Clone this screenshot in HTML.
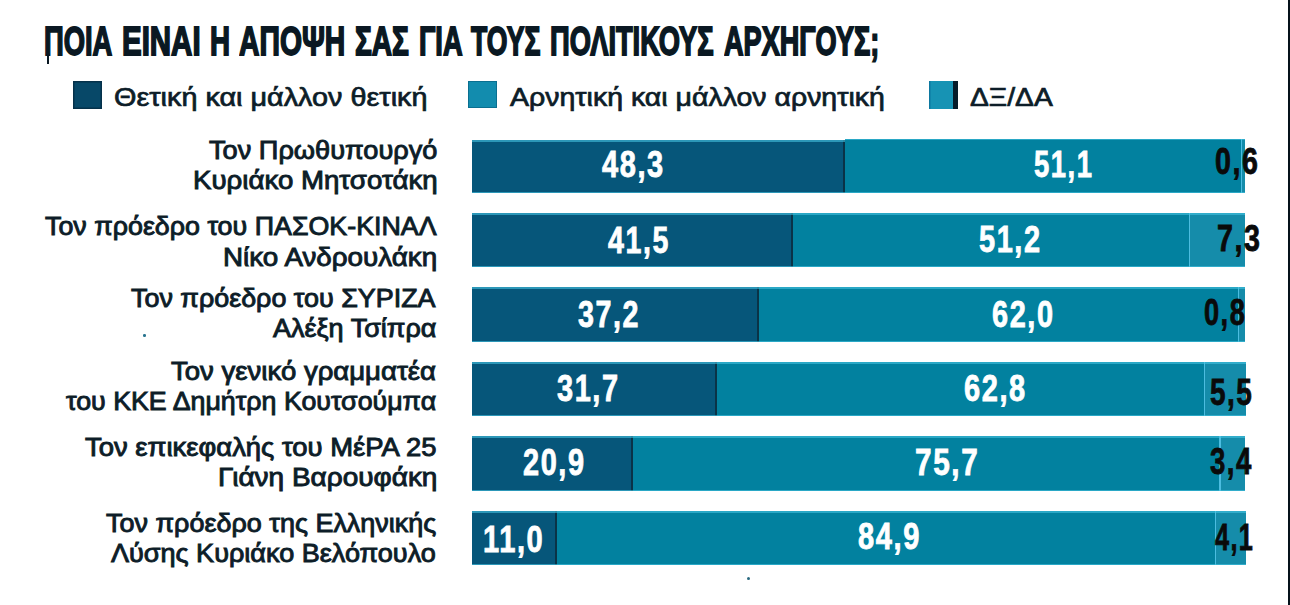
<!DOCTYPE html>
<html><head><meta charset="utf-8"><title>Chart</title>
<style>
html,body{margin:0;padding:0;background:#fff;}
body{width:1290px;height:605px;position:relative;overflow:hidden;font-family:"Liberation Sans",sans-serif;}
.x{position:absolute;white-space:nowrap;transform-origin:0 0;}
.t{font-weight:bold;color:#0a1822;-webkit-text-stroke:1.8px #0a1822;}
.sq{position:absolute;width:29px;height:27px;}
.lg{color:#0d1d28;-webkit-text-stroke:0.7px #0d1d28;}
.lb{color:#0d1d28;-webkit-text-stroke:0.9px #0d1d28;}
.seg{position:absolute;}
.n{font-weight:bold;letter-spacing:2px;}
.w{color:#fff;-webkit-text-stroke:0.8px #fff;}
.k{color:#0a0a0a;-webkit-text-stroke:0.8px #0a0a0a;}
.vl{position:absolute;left:1287.8px;top:0;width:2.2px;height:605px;background:#05111a;}
</style></head><body>
<div class="x t" id="t0" style="left:44.10px;top:20.62px;font-size:41.20px;line-height:41.20px;transform:scaleX(0.6638)">ΠΟΙΑ</div><div class="x t" id="t1" style="left:122.30px;top:20.62px;font-size:41.20px;line-height:41.20px;transform:scaleX(0.7154)">ΕΙΝΑΙ</div><div class="x t" id="t2" style="left:210.00px;top:20.62px;font-size:41.20px;line-height:41.20px;transform:scaleX(0.6738)">Η</div><div class="x t" id="t3" style="left:239.30px;top:20.62px;font-size:41.20px;line-height:41.20px;transform:scaleX(0.6877)">ΑΠΟΨΗ</div><div class="x t" id="t4" style="left:355.20px;top:20.62px;font-size:41.20px;line-height:41.20px;transform:scaleX(0.6803)">ΣΑΣ</div><div class="x t" id="t5" style="left:418.50px;top:20.62px;font-size:41.20px;line-height:41.20px;transform:scaleX(0.6612)">ΓΙΑ</div><div class="x t" id="t6" style="left:471.00px;top:20.62px;font-size:41.20px;line-height:41.20px;transform:scaleX(0.6458)">ΤΟΥΣ</div><div class="x t" id="t7" style="left:550.30px;top:20.62px;font-size:41.20px;line-height:41.20px;transform:scaleX(0.6623)">ΠΟΛΙΤΙΚΟΥΣ</div><div class="x t" id="t8" style="left:724.30px;top:20.62px;font-size:41.20px;line-height:41.20px;transform:scaleX(0.6581)">ΑΡΧΗΓΟΥΣ;</div>
<div class="sq" style="left:72.5px;top:81px;width:29.5px;height:27.5px;background:#074868;box-shadow:inset 0 0 0 1.5px #05314a"></div>
<div class="x lg" id="lg1" style="left:113.90px;top:85.44px;font-size:25.00px;line-height:25.00px;transform:scaleX(1.1515)">Θετική και μάλλον θετική</div>
<div class="sq" style="left:468px;top:80.5px;width:29px;height:27px;background:#128cae;box-shadow:inset 0 0 0 1px #0a6f90"></div>
<div class="x lg" id="lg2" style="left:510.00px;top:85.44px;font-size:25.00px;line-height:25.00px;transform:scaleX(1.1396)">Αρνητική και μάλλον αρνητική</div>
<div class="sq" style="left:928.5px;top:80.5px;width:24.5px;height:28px;background:#1793b4;box-shadow:inset 1.5px 0 0 #0c78a0"></div><div class="sq" style="left:953px;top:80.5px;width:4.5px;height:28px;background:#061c2a"></div>
<div class="x lg" id="lg3" style="left:969.50px;top:85.44px;font-size:25.00px;line-height:25.00px;transform:scaleX(1.1287)">ΔΞ/ΔΑ</div>
<div class="x lb" id="lb0" style="left:209.00px;top:137.64px;font-size:25.00px;line-height:25.00px;transform:scaleX(1.0858)">Τον Πρωθυπουργό</div>
<div class="x lb" id="lb1" style="left:193.00px;top:168.44px;font-size:25.00px;line-height:25.00px;transform:scaleX(1.1056)">Κυριάκο Μητσοτάκη</div>
<div class="x lb" id="lb2" style="left:44.70px;top:214.44px;font-size:25.00px;line-height:25.00px;transform:scaleX(1.0727)">Τον πρόεδρο του ΠΑΣΟΚ-ΚΙΝΑΛ</div>
<div class="x lb" id="lb3" style="left:223.00px;top:244.84px;font-size:25.00px;line-height:25.00px;transform:scaleX(1.1113)">Νίκο Ανδρουλάκη</div>
<div class="x lb" id="lb4" style="left:131.30px;top:285.54px;font-size:25.00px;line-height:25.00px;transform:scaleX(1.0757)">Τον πρόεδρο του ΣΥΡΙΖΑ</div>
<div class="x lb" id="lb5" style="left:273.00px;top:315.84px;font-size:25.00px;line-height:25.00px;transform:scaleX(1.0797)">Αλέξη Τσίπρα</div>
<div class="x lb" id="lb6" style="left:171.30px;top:359.34px;font-size:25.00px;line-height:25.00px;transform:scaleX(1.1017)">Τον γενικό γραμματέα</div>
<div class="x lb" id="lb7" style="left:66.30px;top:389.34px;font-size:25.00px;line-height:25.00px;transform:scaleX(1.0707)">του ΚΚΕ Δημήτρη Κουτσούμπα</div>
<div class="x lb" id="lb8" style="left:85.00px;top:434.84px;font-size:25.00px;line-height:25.00px;transform:scaleX(1.0969)">Τον επικεφαλής του ΜέΡΑ 25</div>
<div class="x lb" id="lb9" style="left:218.00px;top:464.84px;font-size:25.00px;line-height:25.00px;transform:scaleX(1.1193)">Γιάνη Βαρουφάκη</div>
<div class="x lb" id="lb10" style="left:106.00px;top:510.54px;font-size:25.00px;line-height:25.00px;transform:scaleX(1.0785)">Τον πρόεδρο της Ελληνικής</div>
<div class="x lb" id="lb11" style="left:111.30px;top:540.54px;font-size:25.00px;line-height:25.00px;transform:scaleX(1.0816)">Λύσης Κυριάκο Βελόπουλο</div>
<div class="seg" style="left:472px;top:140px;width:373px;height:53px;background:#06567a"></div><div class="seg" style="left:845px;top:138.7px;width:395.6px;height:54.3px;background:#02819f"></div><div class="seg" style="left:1240.6px;top:138.7px;width:4.4px;height:54.3px;background:#158caa"></div>
<div class="seg" style="left:843px;top:140px;width:2px;height:53px;background:#0a3347"></div><div class="seg" style="left:1240.6px;top:138.7px;width:1.5px;height:54.3px;background:#4cbde0"></div>
<div class="seg" style="left:472px;top:140px;width:373px;height:1.5px;background:rgba(70,195,225,0.6)"></div><div class="seg" style="left:845px;top:138.7px;width:400px;height:1.5px;background:rgba(70,195,225,0.6)"></div><div class="seg" style="left:472px;top:191.5px;width:773px;height:1.5px;background:rgba(70,195,225,0.6)"></div>
<div class="x n w" id="n00" style="left:602.00px;top:147.19px;font-size:36.40px;line-height:36.40px;transform:scaleX(0.7973)">48,3</div><div class="x n w" id="n01" style="left:1034.00px;top:147.29px;font-size:36.40px;line-height:36.40px;transform:scaleX(0.7538)">51,1</div><div class="x n k" id="n02" style="left:1215.00px;top:144.09px;font-size:36.40px;line-height:36.40px;transform:scaleX(0.7857)">0,6</div>
<div class="seg" style="left:472px;top:213px;width:321px;height:54px;background:#06567a"></div><div class="seg" style="left:793px;top:213px;width:395.5px;height:54px;background:#02819f"></div><div class="seg" style="left:1188.5px;top:213px;width:56.5px;height:54px;background:#158caa"></div>
<div class="seg" style="left:791px;top:213px;width:2px;height:54px;background:#0a3347"></div><div class="seg" style="left:1188.5px;top:213px;width:1.5px;height:54px;background:#4cbde0"></div>
<div class="seg" style="left:472px;top:213px;width:321px;height:1.5px;background:rgba(70,195,225,0.6)"></div><div class="seg" style="left:793px;top:213px;width:452px;height:1.5px;background:rgba(70,195,225,0.6)"></div><div class="seg" style="left:472px;top:265.5px;width:773px;height:1.5px;background:rgba(70,195,225,0.6)"></div>
<div class="x n w" id="n10" style="left:608.00px;top:222.59px;font-size:36.40px;line-height:36.40px;transform:scaleX(0.7846)">41,5</div><div class="x n w" id="n11" style="left:979.00px;top:221.99px;font-size:36.40px;line-height:36.40px;transform:scaleX(0.7947)">51,2</div><div class="x n k" id="n12" style="left:1217.00px;top:220.59px;font-size:36.40px;line-height:36.40px;transform:scaleX(0.7883)">7,3</div>
<div class="seg" style="left:472px;top:287px;width:287px;height:55px;background:#06567a"></div><div class="seg" style="left:759px;top:287px;width:478.7px;height:55px;background:#02819f"></div><div class="seg" style="left:1237.7px;top:287px;width:7.3px;height:55px;background:#158caa"></div>
<div class="seg" style="left:757px;top:287px;width:2px;height:55px;background:#0a3347"></div><div class="seg" style="left:1237.7px;top:287px;width:1.5px;height:55px;background:#4cbde0"></div>
<div class="seg" style="left:472px;top:287px;width:287px;height:1.5px;background:rgba(70,195,225,0.6)"></div><div class="seg" style="left:759px;top:287px;width:486px;height:1.5px;background:rgba(70,195,225,0.6)"></div><div class="seg" style="left:472px;top:340.5px;width:773px;height:1.5px;background:rgba(70,195,225,0.6)"></div>
<div class="x n w" id="n20" style="left:578.00px;top:296.59px;font-size:36.40px;line-height:36.40px;transform:scaleX(0.7872)">37,2</div><div class="x n w" id="n21" style="left:992.00px;top:296.59px;font-size:36.40px;line-height:36.40px;transform:scaleX(0.7932)">62,0</div><div class="x n k" id="n22" style="left:1204.00px;top:294.59px;font-size:36.40px;line-height:36.40px;transform:scaleX(0.7470)">0,8</div>
<div class="seg" style="left:472px;top:362px;width:245px;height:54px;background:#06567a"></div><div class="seg" style="left:717px;top:362px;width:486.6px;height:54px;background:#02819f"></div><div class="seg" style="left:1203.6px;top:362px;width:42.2px;height:54px;background:#158caa"></div>
<div class="seg" style="left:715px;top:362px;width:2px;height:54px;background:#0a3347"></div><div class="seg" style="left:1203.6px;top:362px;width:1.5px;height:54px;background:#4cbde0"></div>
<div class="seg" style="left:472px;top:362px;width:245px;height:1.5px;background:rgba(70,195,225,0.6)"></div><div class="seg" style="left:717px;top:362px;width:528.8px;height:1.5px;background:rgba(70,195,225,0.6)"></div><div class="seg" style="left:472px;top:414.5px;width:773.8px;height:1.5px;background:rgba(70,195,225,0.6)"></div>
<div class="x n w" id="n30" style="left:557.00px;top:370.59px;font-size:36.40px;line-height:36.40px;transform:scaleX(0.7950)">31,7</div><div class="x n w" id="n31" style="left:963.50px;top:370.99px;font-size:36.40px;line-height:36.40px;transform:scaleX(0.7971)">62,8</div><div class="x n k" id="n32" style="left:1210.00px;top:374.59px;font-size:36.40px;line-height:36.40px;transform:scaleX(0.7678)">5,5</div>
<div class="seg" style="left:472px;top:436px;width:161.2px;height:55px;background:#06567a"></div><div class="seg" style="left:633.2px;top:436px;width:586.0px;height:55px;background:#02819f"></div><div class="seg" style="left:1219.2px;top:436px;width:25.8px;height:55px;background:#158caa"></div>
<div class="seg" style="left:631.2px;top:436px;width:2px;height:55px;background:#0a3347"></div><div class="seg" style="left:1219.2px;top:436px;width:1.5px;height:55px;background:#4cbde0"></div>
<div class="seg" style="left:472px;top:436px;width:161.2px;height:1.5px;background:rgba(70,195,225,0.6)"></div><div class="seg" style="left:633.2px;top:436px;width:611.8px;height:1.5px;background:rgba(70,195,225,0.6)"></div><div class="seg" style="left:472px;top:489.5px;width:773px;height:1.5px;background:rgba(70,195,225,0.6)"></div>
<div class="x n w" id="n40" style="left:522.70px;top:445.39px;font-size:36.40px;line-height:36.40px;transform:scaleX(0.7941)">20,9</div><div class="x n w" id="n41" style="left:914.60px;top:444.59px;font-size:36.40px;line-height:36.40px;transform:scaleX(0.8172)">75,7</div><div class="x n k" id="n42" style="left:1210.00px;top:443.59px;font-size:36.40px;line-height:36.40px;transform:scaleX(0.7564)">3,4</div>
<div class="seg" style="left:472px;top:511px;width:84.7px;height:54px;background:#06567a"></div><div class="seg" style="left:556.7px;top:511px;width:657.9px;height:54px;background:#02819f"></div><div class="seg" style="left:1214.6px;top:511px;width:31.2px;height:54px;background:#158caa"></div>
<div class="seg" style="left:554.7px;top:511px;width:2px;height:54px;background:#0a3347"></div><div class="seg" style="left:1214.6px;top:511px;width:1.5px;height:54px;background:#4cbde0"></div>
<div class="seg" style="left:472px;top:511px;width:84.7px;height:1.5px;background:rgba(70,195,225,0.6)"></div><div class="seg" style="left:556.7px;top:511px;width:689.1px;height:1.5px;background:rgba(70,195,225,0.6)"></div><div class="seg" style="left:472px;top:563.5px;width:773.8px;height:1.5px;background:rgba(70,195,225,0.6)"></div>
<div class="x n w" id="n50" style="left:483.00px;top:521.99px;font-size:36.40px;line-height:36.40px;transform:scaleX(0.7991)">11,0</div><div class="x n w" id="n51" style="left:857.50px;top:518.59px;font-size:36.40px;line-height:36.40px;transform:scaleX(0.7975)">84,9</div><div class="x n k" id="n52" style="left:1215.00px;top:519.89px;font-size:36.40px;line-height:36.40px;transform:scaleX(0.6942)">4,1</div>
<div class="vl"></div>
<div class="seg" style="left:47px;top:52px;width:1.6px;height:11.5px;background:#0a1822"></div>
<div class="seg" style="left:143px;top:334px;width:2.5px;height:2.5px;border-radius:50%;background:#2a7590"></div>
<div class="seg" style="left:747px;top:576.5px;width:3px;height:3px;border-radius:50%;background:#2a6a80"></div>
</body></html>
